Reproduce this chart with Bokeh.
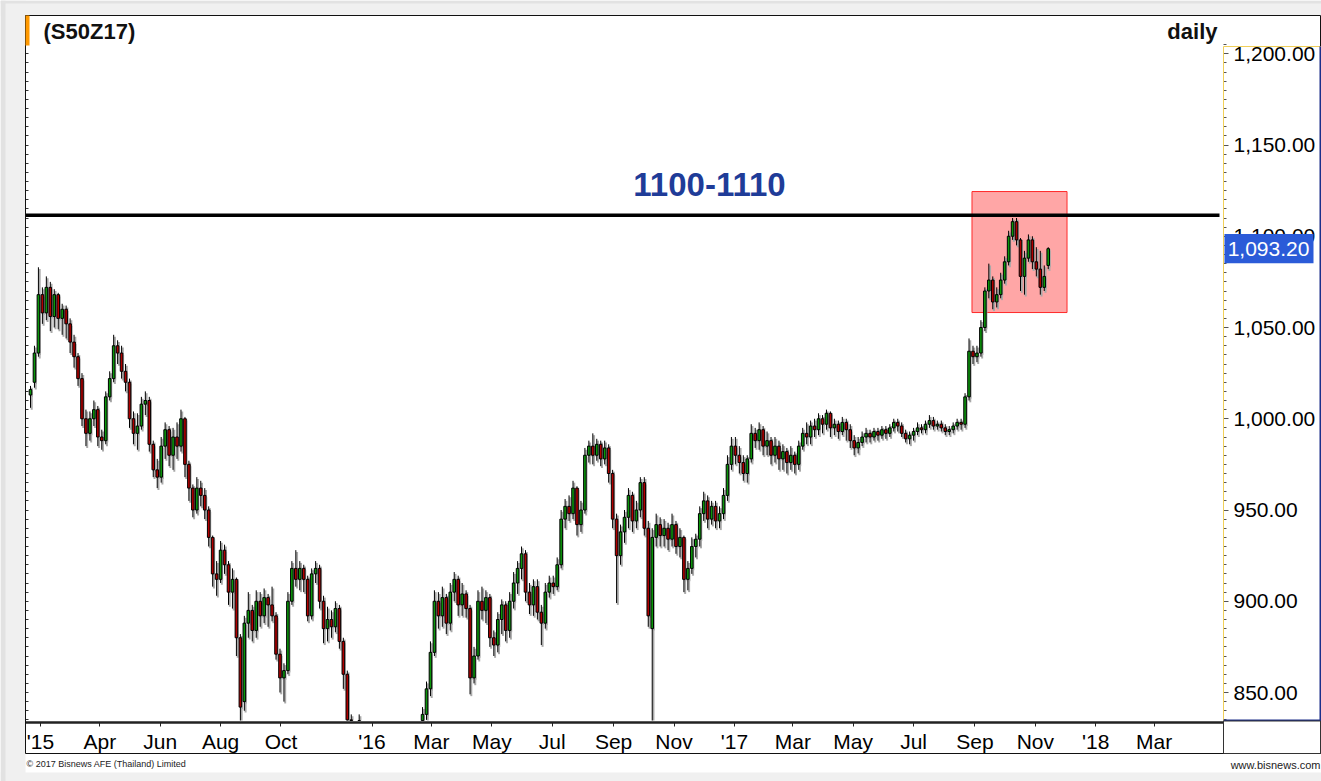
import pandas as pd
from bokeh.plotting import figure
from bokeh.models import (ColumnDataSource, Range1d, LinearAxis, FixedTicker,
                          NumeralTickFormatter, BoxAnnotation, Label)
from bokeh.embed import file_html
from bokeh.resources import INLINE

# ---------------- data ----------------
symbol = "(S50Z17)"
interval_label = "daily"
start_date = "2015-01-21"          # first candle, one candle every 4 days
opens = [
    1013, 1020, 1036, 1068, 1058, 1072, 1056, 1068, 1055, 1060,
    1052, 1042, 1034, 1022, 1000, 992, 1000, 1005, 990, 988,
    1012, 1022, 1040, 1036, 1026, 1020, 1000, 992, 996, 1008,
    1010, 986, 972, 968, 985, 994, 980, 990, 985, 1000,
    975, 962, 950, 962, 958, 950, 935, 915, 912, 928,
    920, 905, 912, 880, 845, 888, 895, 884, 900, 892,
    902, 898, 892, 871, 858, 862, 900, 918, 912, 918,
    912, 892, 915, 918, 900, 885, 890, 886, 896, 878,
    860, 835, 822, 818, 826, 815, 805, 798, 810, 802,
    790, 785, 798, 808, 802, 812, 806, 815, 810, 822,
    838, 852, 872, 900, 892, 902, 888, 905, 912, 898,
    904, 896, 858, 870, 900, 895, 902, 880, 876, 890,
    898, 884, 900, 910, 918, 926, 905, 898, 908, 894,
    888, 905, 910, 908, 920, 945, 952, 948, 962, 942,
    950, 980, 985, 980, 986, 978, 984, 970, 945, 925,
    938, 946, 958, 944, 950, 965, 940, 885, 935, 942,
    936, 940, 934, 942, 930, 935, 912, 918, 930, 934,
    948, 955, 945, 952, 944, 948, 958, 975, 985, 980,
    976, 970, 978, 992, 988, 994, 985, 988, 980, 985,
    978, 982, 976, 980, 975, 985, 992, 990, 996, 994,
    1000, 997, 1003, 995, 997, 993, 998, 994, 988, 984,
    987, 990, 992, 990, 993, 991, 994, 992, 995, 998,
    996, 992, 989, 991, 993, 995, 994, 997, 999, 996,
    997, 995, 993, 994, 996, 998, 997, 1012, 1037, 1034,
    1036, 1050, 1070, 1076, 1064, 1068, 1076, 1086, 1100, 1108,
    1098, 1078, 1088, 1098, 1086, 1082, 1072, 1084,
]
highs = [
    1018, 1040, 1083, 1072, 1078, 1075, 1071, 1069, 1063, 1062,
    1055, 1046, 1036, 1025, 1005, 1004, 1010, 1007, 994, 1015,
    1026, 1046, 1043, 1040, 1030, 1022, 1004, 1003, 1012, 1015,
    1012, 988, 978, 990, 998, 996, 995, 998, 1005, 1001,
    977, 964, 968, 966, 962, 952, 936, 922, 933, 931,
    922, 918, 913, 882, 892, 905, 898, 906, 905, 907,
    904, 908, 894, 874, 866, 905, 922, 928, 922, 920,
    914, 918, 922, 920, 903, 897, 895, 900, 898, 880,
    862, 838, 830, 838, 830, 820, 812, 815, 816, 806,
    796, 802, 814, 815, 818, 818, 822, 824, 828, 842,
    856, 878, 906, 905, 908, 904, 910, 916, 914, 910,
    906, 898, 875, 906, 908, 906, 904, 884, 894, 901,
    900, 905, 916, 922, 930, 928, 910, 912, 912, 898,
    910, 914, 914, 924, 950, 956, 958, 966, 963, 955,
    984, 988, 992, 989, 988, 988, 986, 972, 948, 942,
    950, 962, 960, 955, 968, 968, 944, 940, 948, 946,
    945, 943, 948, 944, 940, 936, 922, 935, 937, 952,
    960, 958, 955, 955, 952, 962, 980, 990, 990, 985,
    980, 980, 997, 995, 998, 996, 993, 990, 990, 988,
    986, 984, 985, 982, 988, 995, 998, 999, 1000, 1003,
    1002, 1005, 1004, 1000, 999, 1001, 1000, 997, 991, 990,
    993, 995, 994, 995, 995, 996, 996, 997, 1000, 1000,
    998, 994, 993, 995, 998, 997, 999, 1002, 1001, 999,
    999, 997, 996, 998, 1000, 1000, 1014, 1044, 1040, 1040,
    1054, 1072, 1085, 1078, 1072, 1080, 1089, 1103, 1110, 1110,
    1099, 1092, 1101, 1100, 1094, 1092, 1084, 1094,
]
lows = [
    1006, 1017, 1034, 1052, 1054, 1048, 1050, 1049, 1046, 1044,
    1036, 1028, 1018, 996, 985, 988, 996, 985, 983, 986,
    1010, 1020, 1030, 1022, 1015, 995, 986, 983, 994, 1002,
    982, 968, 962, 965, 978, 974, 972, 978, 982, 968,
    955, 946, 948, 952, 945, 930, 908, 903, 910, 915,
    898, 896, 870, 828, 840, 880, 878, 880, 886, 888,
    886, 889, 868, 850, 845, 860, 898, 908, 906, 905,
    889, 890, 910, 896, 877, 878, 880, 883, 874, 852,
    826, 815, 810, 812, 808, 798, 790, 792, 795, 782,
    778, 780, 795, 798, 798, 800, 803, 806, 808, 818,
    835, 848, 870, 885, 886, 882, 884, 900, 892, 892,
    891, 849, 855, 868, 890, 888, 875, 870, 872, 882,
    878, 880, 896, 904, 912, 900, 893, 892, 890, 876,
    885, 902, 904, 906, 918, 940, 944, 945, 936, 938,
    948, 976, 975, 977, 974, 975, 965, 940, 899, 920,
    932, 940, 938, 940, 946, 936, 886, 820, 930, 930,
    930, 928, 930, 926, 924, 905, 906, 915, 924, 930,
    944, 940, 942, 940, 940, 945, 955, 972, 975, 970,
    966, 965, 976, 984, 983, 980, 980, 975, 976, 972,
    972, 970, 972, 970, 972, 983, 986, 986, 990, 991,
    992, 994, 990, 991, 989, 991, 988, 984, 980, 981,
    985, 987, 987, 988, 988, 989, 989, 990, 993, 993,
    990, 987, 986, 988, 991, 992, 992, 995, 994, 994,
    993, 991, 991, 992, 994, 994, 995, 1010, 1030, 1031,
    1034, 1048, 1066, 1060, 1061, 1066, 1074, 1084, 1098, 1095,
    1070, 1068, 1086, 1082, 1078, 1068, 1070, 1082,
]
closes = [
    1016, 1036, 1068, 1058, 1072, 1056, 1068, 1055, 1060, 1052,
    1042, 1034, 1022, 1000, 992, 1000, 1005, 990, 988, 1012,
    1022, 1040, 1036, 1026, 1020, 1000, 992, 996, 1008, 1010,
    986, 972, 968, 985, 994, 980, 990, 985, 1000, 975,
    962, 950, 962, 958, 950, 935, 915, 912, 928, 920,
    905, 912, 880, 842, 888, 895, 884, 900, 892, 902,
    898, 892, 871, 858, 862, 900, 918, 912, 918, 912,
    892, 915, 918, 900, 885, 890, 886, 896, 878, 860,
    835, 822, 818, 826, 815, 805, 798, 810, 802, 790,
    785, 798, 808, 802, 812, 806, 815, 810, 822, 838,
    852, 872, 900, 892, 902, 888, 905, 912, 898, 904,
    896, 858, 870, 900, 895, 902, 880, 876, 890, 898,
    884, 900, 910, 918, 926, 905, 898, 908, 894, 888,
    905, 910, 908, 920, 945, 952, 948, 962, 942, 950,
    980, 985, 980, 986, 978, 984, 970, 945, 925, 938,
    946, 958, 944, 950, 965, 940, 892, 935, 942, 936,
    940, 934, 942, 930, 935, 912, 918, 930, 934, 948,
    955, 945, 952, 944, 948, 958, 975, 985, 980, 976,
    970, 978, 992, 988, 994, 985, 988, 980, 985, 978,
    982, 976, 980, 975, 985, 992, 990, 996, 994, 1000,
    997, 1003, 995, 997, 993, 998, 994, 988, 984, 987,
    990, 992, 990, 993, 991, 994, 992, 995, 998, 996,
    992, 989, 991, 993, 995, 994, 997, 999, 996, 997,
    995, 993, 994, 996, 998, 997, 1012, 1037, 1034, 1036,
    1050, 1070, 1076, 1064, 1068, 1076, 1086, 1100, 1108, 1098,
    1078, 1088, 1098, 1086, 1082, 1072, 1078, 1093.2,
]

resistance = 1111.5
resistance_text = "1100-1110"
zone_start, zone_end = "2017-08-29", "2017-12-03"
zone_low, zone_high = 1058.2, 1124.5

tick_dates = ["2015-01-31", "2015-04-01", "2015-06-01", "2015-08-01", "2015-10-01",
              "2016-01-01", "2016-03-01", "2016-05-01", "2016-07-01", "2016-09-01",
              "2016-11-01", "2017-01-01", "2017-03-01", "2017-05-01", "2017-07-01",
              "2017-09-01", "2017-11-01", "2018-01-01", "2018-03-01"]
tick_labels = ["'15", "Apr", "Jun", "Aug", "Oct", "'16", "Mar", "May", "Jul", "Sep",
               "Nov", "'17", "Mar", "May", "Jul", "Sep", "Nov", "'18", "Mar"]
y_major = [850, 900, 950, 1000, 1050, 1100, 1150, 1200]
y_minor = list(range(835, 1206, 5))

copyright_text = "\u00a9 2017 Bisnews AFE (Thailand) Limited"
website_text = "www.bisnews.com"

# ---------------- layout calibration (pixels of the 1321x781 page) ----------------
W_PX, H_PX = 1321, 781
ORIGIN = pd.Timestamp("2015-01-01")
PX_PER_DAY, PX_AT_ORIGIN = 0.99, 10.2
PX_PER_PT, PX_AT_850 = 1.825, 692.0
PANEL_L, PANEL_R, PANEL_T, PANEL_B = 25, 1223, 15, 720


def t_at(px):       # time (ms) at a horizontal pixel
    ts = ORIGIN + pd.Timedelta(days=(px - PX_AT_ORIGIN) / PX_PER_DAY)
    return ts.value / 1e6


def p_at(py):       # price at a vertical pixel
    return 850 + (PX_AT_850 - py) / PX_PER_PT


FONT = "Liberation Sans"
UP = "#0b960b"
DOWN = "#b00000"
DAY = 86400000.0
y_floor = p_at(PANEL_B)

dates = pd.date_range(start_date, periods=len(closes), freq="4D")
shift = pd.Timedelta(hours=30)
tops = [max(o, c) for o, c in zip(opens, closes)]
bots = [min(o, c) for o, c in zip(opens, closes)]
clamp = lambda v: max(v, y_floor)   # the panel floor hides what lies below it
src = ColumnDataSource(dict(
    x=dates, xs=dates + shift,
    h=[clamp(v) for v in highs], l=[clamp(v) for v in lows],
    top=[clamp(v) for v in tops], bot=[clamp(v) for v in bots],
    hs=[clamp(v - 1.0) for v in highs], ls=[clamp(v - 1.0) for v in lows],
    tops=[clamp(v - 1.0) for v in tops], bots=[clamp(v - 1.0) for v in bots],
    color=[UP if c >= o else DOWN for o, c in zip(opens, closes)],
    alpha=[1.0 if h > y_floor else 0.0 for h in highs],
))

p = figure(width=W_PX, height=H_PX, x_axis_type="datetime", y_axis_location="right",
           x_range=Range1d(t_at(0), t_at(W_PX)), y_range=Range1d(p_at(H_PX), p_at(0)),
           output_backend="svg", toolbar_location=None, min_border=0,
           min_border_left=0, min_border_right=0, min_border_top=0, min_border_bottom=0,
           border_fill_color="white", background_fill_color="white",
           outline_line_color=None)
p.xgrid.visible = False
p.ygrid.visible = False

# x axis (drawn at the bottom edge of the chart panel)
tick_ms = [pd.Timestamp(d).value / 1e6 for d in tick_dates]
xa = p.xaxis[0]
xa.fixed_location = p_at(PANEL_B + 1.5)
xa.bounds = (t_at(PANEL_L), t_at(PANEL_R))
xa.ticker = FixedTicker(ticks=tick_ms)
xa.major_label_overrides = {t: lab for t, lab in zip(tick_ms, tick_labels)}
xa.major_label_text_font = FONT
xa.major_label_text_font_size = "21px"
xa.major_label_text_color = "black"
xa.axis_line_width = 2.5
xa.axis_line_color = "#222222"
xa.major_tick_out = 4
xa.major_tick_in = 0
xa.major_tick_line_color = "#222222"
xa.minor_tick_line_color = None
xa.major_label_standoff = 4

# right price axis
ya = p.yaxis[0]
ya.fixed_location = t_at(PANEL_R)
ya.bounds = (p_at(PANEL_B), p_at(46))
ya.ticker = FixedTicker(ticks=y_major, minor_ticks=y_minor)
ya.formatter = NumeralTickFormatter(format="0,0.00")
ya.major_label_text_font = FONT
ya.major_label_text_font_size = "21px"
ya.major_label_text_color = "black"
ya.axis_line_color = None
ya.major_tick_out = 5
ya.major_tick_in = 0
ya.minor_tick_out = 3
ya.minor_tick_in = 0
ya.major_tick_line_color = "#555555"
ya.minor_tick_line_color = "#555555"
ya.major_label_standoff = 5

# left tick-only axis
la = LinearAxis(fixed_location=t_at(PANEL_L), bounds=(p_at(PANEL_B), p_at(PANEL_T)),
                ticker=FixedTicker(ticks=[], minor_ticks=y_minor),
                minor_tick_in=3, minor_tick_out=0, major_tick_in=0, major_tick_out=0,
                axis_line_color="black", minor_tick_line_color="#333333")
p.add_layout(la, "left")

# highlight zone
p.add_layout(BoxAnnotation(left=pd.Timestamp(zone_start).value / 1e6,
                           right=pd.Timestamp(zone_end).value / 1e6,
                           bottom=zone_low, top=zone_high,
                           fill_color="#ff0000", fill_alpha=0.35,
                           line_color="#ff2a2a", line_alpha=1, line_width=1,
                           level="underlay"))

# candles: shadow, wick, body
W = 2.6 * DAY
p.segment(x0="xs", y0="hs", x1="xs", y1="ls", source=src, line_color="#a9a9a9",
          line_width=2, line_alpha="alpha")
p.vbar(x="xs", width=W, top="tops", bottom="bots", source=src,
       fill_color="#a9a9a9", line_color=None, fill_alpha="alpha")
p.segment(x0="x", y0="h", x1="x", y1="l", source=src, line_color="black",
          line_width=1, line_alpha="alpha")
p.vbar(x="x", width=W, top="top", bottom="bot", source=src,
       fill_color="color", line_color="black", line_width=1,
       fill_alpha="alpha", line_alpha="alpha")


def cbox(l, t, r, b, fill=None, line=None, lw=1):
    return BoxAnnotation(left=l, right=r, top=t, bottom=b,
                         left_units="canvas", right_units="canvas",
                         top_units="canvas", bottom_units="canvas",
                         fill_color=fill, fill_alpha=1 if fill else 0,
                         line_color=line, line_alpha=1 if line else 0, line_width=lw)


# resistance line (zero-height box drawn as a thick line across the panel)
p.add_layout(BoxAnnotation(left=PANEL_L, right=1219, left_units="canvas", right_units="canvas",
                           top=resistance, bottom=resistance, fill_alpha=0,
                           line_color="black", line_alpha=1, line_width=3.5))
p.add_layout(Label(x=709, x_units="canvas", y=resistance, y_units="data", y_offset=31,
                   text=resistance_text, text_font=FONT, text_font_size="33px",
                   text_font_style="bold", text_color="#1f3c98",
                   text_align="center", text_baseline="middle"))

# page margins
for box in [cbox(0, 0, PANEL_L, H_PX, "#f0f0f0"), cbox(0, 0, W_PX, PANEL_T, "#f0f0f0"),
            cbox(0, 772, W_PX, H_PX, "#f0f0f0"), cbox(0, 0, 5, H_PX, "#e2e2e2"),
            cbox(0, 0, W_PX, 3, "#e2e2e2")]:
    p.add_layout(box)

# chart borders
p.add_layout(cbox(PANEL_L, PANEL_T, 1320, 753, None, "#111111", 1))
p.add_layout(cbox(PANEL_R, 46, 1320, PANEL_B, None, "#f0cf5a", 1))
p.add_layout(cbox(1319, 46, 1320.5, PANEL_B + 0.5, "#1c2f8a"))
p.add_layout(cbox(PANEL_R, PANEL_B - 1, 1320.5, PANEL_B + 0.5, "#1c2f8a"))
p.add_layout(cbox(PANEL_R, PANEL_B + 0.5, 1320, 753, None, "#333333", 1))
p.add_layout(cbox(PANEL_L, PANEL_T, 29, 45, "#ff9900"))

# last price tag
last = closes[-1]
p.add_layout(BoxAnnotation(left=1224, right=1313, left_units="canvas", right_units="canvas",
                           top=last + 8, bottom=last - 8, fill_color="#2b5bd8", fill_alpha=1,
                           line_color=None))
p.add_layout(Label(x=1268, x_units="canvas", y=last, y_units="data",
                   text=f"{last:,.2f}", text_font=FONT, text_font_size="21px",
                   text_color="white", text_align="center", text_baseline="middle"))

# header texts
p.add_layout(Label(x=43, y=31, x_units="canvas", y_units="canvas", text=symbol,
                   text_font=FONT, text_font_size="22px", text_font_style="bold",
                   text_color="#111111", text_baseline="middle"))
p.add_layout(Label(x=1217, y=31, x_units="canvas", y_units="canvas", text=interval_label,
                   text_font=FONT, text_font_size="22px", text_font_style="bold",
                   text_color="#111111", text_align="right", text_baseline="middle"))

# footer texts
p.add_layout(Label(x=26, y=763, x_units="canvas", y_units="canvas", text=copyright_text,
                   text_font=FONT, text_font_size="9px",
                   text_color="#222222", text_baseline="middle"))
p.add_layout(Label(x=1320, y=764, x_units="canvas", y_units="canvas", text=website_text,
                   text_font=FONT, text_font_size="11px", text_color="#222222",
                   text_align="right", text_baseline="middle"))

open("out.html", "w").write(file_html(p, INLINE))
